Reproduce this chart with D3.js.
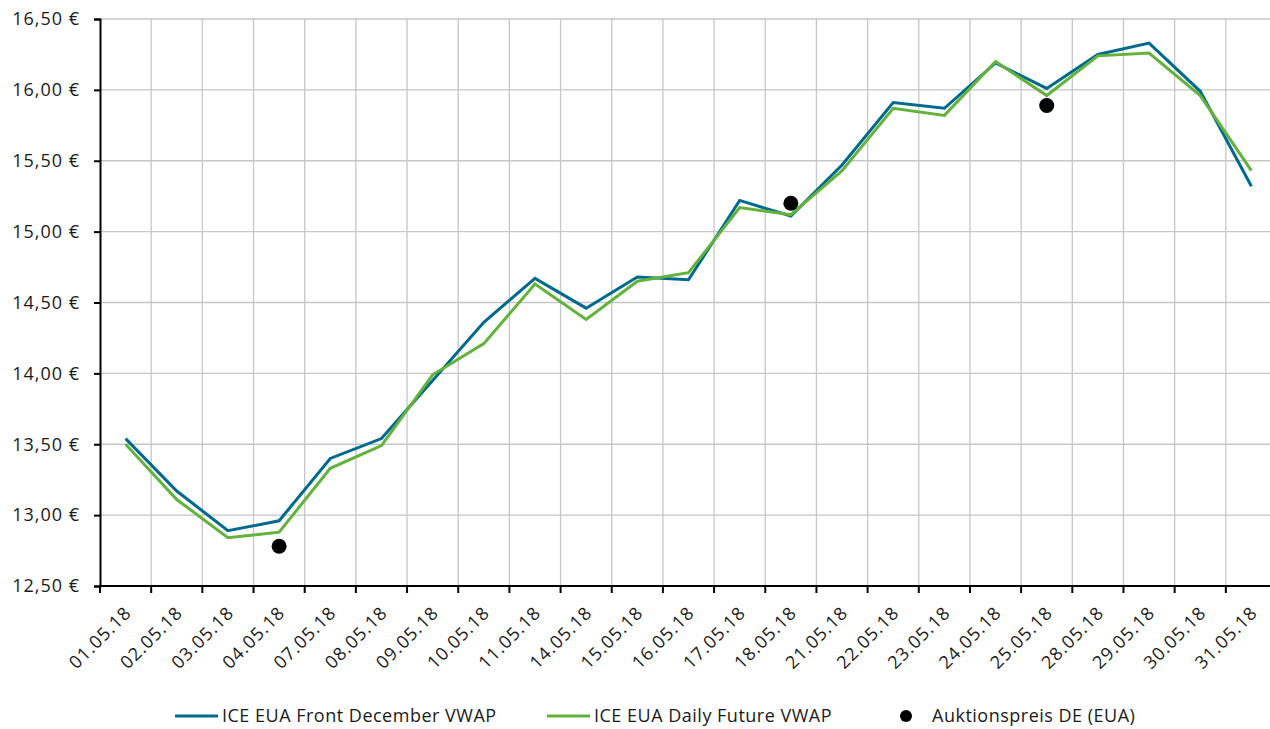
<!DOCTYPE html>
<html>
<head>
<meta charset="utf-8">
<script src="https://cdn.jsdelivr.net/npm/d3@7"></script>
<style>
  html, body { margin: 0; padding: 0; background: #fff; }
  svg { display: block; }
  text { font-family: "Open Sans", "Noto Sans", sans-serif; fill: #1a1a1a; }
</style>
</head>
<body>
<svg id="chart" width="1270" height="729"></svg>
<script>
const categories = ["01.05.18","02.05.18","03.05.18","04.05.18","07.05.18","08.05.18","09.05.18","10.05.18","11.05.18","14.05.18","15.05.18","16.05.18","17.05.18","18.05.18","21.05.18","22.05.18","23.05.18","24.05.18","25.05.18","28.05.18","29.05.18","30.05.18","31.05.18"];
const frontDecember = [13.54,13.17,12.89,12.96,13.40,13.54,13.95,14.36,14.67,14.46,14.68,14.66,15.22,15.11,15.47,15.91,15.87,16.19,16.01,16.25,16.33,15.99,15.32];
const dailyFuture   = [13.50,13.11,12.84,12.88,13.33,13.49,13.99,14.21,14.63,14.38,14.65,14.71,15.17,15.12,15.43,15.87,15.82,16.20,15.96,16.24,16.26,15.96,15.43];
const auktionspreis = [null,null,null,12.78,null,null,null,null,null,null,null,null,null,15.20,null,null,null,null,15.89,null,null,null,null];
const yTicks = [12.5,13.0,13.5,14.0,14.5,15.0,15.5,16.0,16.5];
const seriesNames = ["ICE EUA Front December VWAP","ICE EUA Daily Future VWAP","Auktionspreis DE (EUA)"];

const BLUE = "#006a8e", GREEN = "#62b23b";
const svg = d3.select("#chart");
const mLeft = 100, mRight = 1277, mTop = 19, mBottom = 586;

const x = d3.scaleBand().domain(categories).range([mLeft, mRight]).paddingInner(0).paddingOuter(0);
const y = d3.scaleLinear().domain([12.5, 16.5]).range([mBottom, mTop]);
const bw = x.bandwidth();
const cx = c => x(c) + bw / 2;

const de = d3.formatLocale({decimal: ",", thousands: ".", grouping: [3], currency: ["", " €"]});
const fmt = de.format(".2f");

// gridlines
const grid = svg.append("g");
grid.selectAll("line.h").data(yTicks.slice(1)).join("line")
  .attr("class", "h")
  .attr("x1", mLeft).attr("x2", 1270)
  .attr("y1", d => y(d)).attr("y2", d => y(d))
  .attr("stroke", "#c6c6c6").attr("stroke-width", 1.3);
grid.selectAll("line.v").data(categories).join("line")
  .attr("class", "v")
  .attr("x1", d => x(d) + bw).attr("x2", d => x(d) + bw)
  .attr("y1", mTop).attr("y2", mBottom)
  .attr("stroke", "#c6c6c6").attr("stroke-width", 1.3);

// y axis
const yAxis = svg.append("g").attr("transform", `translate(${mLeft},0)`)
  .call(d3.axisLeft(y).tickValues(yTicks).tickFormat(d => fmt(d) + " €").tickSize(6).tickPadding(14));
yAxis.select(".domain").attr("stroke", "#000").attr("stroke-width", 2);
yAxis.selectAll(".tick line").attr("stroke", "#000").attr("stroke-width", 2);
yAxis.selectAll(".tick text").attr("font-size", 18).attr("letter-spacing", "1px")
  .style("font-family", '"Open Sans", sans-serif').attr("fill", "#1a1a1a");

// x axis
const xAxis = svg.append("g").attr("transform", `translate(0,${mBottom})`)
  .call(d3.axisBottom(x).tickSize(0).tickPadding(0));
xAxis.select(".domain").remove();
xAxis.append("line").attr("x1", mLeft - 1).attr("x2", 1270).attr("y1", 0).attr("y2", 0)
  .attr("stroke", "#000").attr("stroke-width", 2);
xAxis.selectAll("line.bt").data([categories[0]].concat(categories)).join("line")
  .attr("class", "bt")
  .attr("x1", (d, i) => i === 0 ? x(d) : x(d) + bw)
  .attr("x2", (d, i) => i === 0 ? x(d) : x(d) + bw)
  .attr("y1", 0).attr("y2", 7)
  .attr("stroke", "#000").attr("stroke-width", 2);
xAxis.selectAll(".tick text")
  .attr("font-size", 18).attr("letter-spacing", "1px")
  .style("font-family", '"Open Sans", sans-serif').attr("fill", "#1a1a1a")
  .attr("text-anchor", "end").attr("dy", 0).attr("y", 0)
  .attr("transform", "translate(7,28) rotate(-45)");

// lines
const line = d3.line().x((d, i) => cx(categories[i])).y(d => y(d));
svg.append("path").datum(frontDecember).attr("d", line)
  .attr("fill", "none").attr("stroke", BLUE).attr("stroke-width", 3).attr("stroke-linejoin", "miter");
svg.append("path").datum(dailyFuture).attr("d", line)
  .attr("fill", "none").attr("stroke", GREEN).attr("stroke-width", 3).attr("stroke-linejoin", "miter");

// dots
svg.append("g").selectAll("circle")
  .data(auktionspreis.map((v, i) => ({v, c: categories[i]})).filter(d => d.v !== null))
  .join("circle")
  .attr("cx", d => cx(d.c)).attr("cy", d => y(d.v)).attr("r", 7.5).attr("fill", "#000");

// legend
const legend = svg.append("g").attr("transform", "translate(0,716)");
const items = [
  {name: seriesNames[0], type: "line", color: BLUE, x: 175},
  {name: seriesNames[1], type: "line", color: GREEN, x: 547},
  {name: seriesNames[2], type: "dot", color: "#000", x: 900}
];
items.forEach(it => {
  const g = legend.append("g").attr("transform", `translate(${it.x},0)`);
  if (it.type === "line") {
    g.append("line").attr("x1", 0).attr("x2", 43).attr("y1", 0).attr("y2", 0)
      .attr("stroke", it.color).attr("stroke-width", 3);
    g.append("text").attr("x", 47).attr("y", 0).attr("dy", "0.35em")
      .attr("font-size", 18).attr("letter-spacing", "0.5px").text(it.name);
  } else {
    g.append("circle").attr("cx", 6).attr("cy", 0).attr("r", 6).attr("fill", it.color);
    g.append("text").attr("x", 32).attr("y", 0).attr("dy", "0.35em")
      .attr("font-size", 18).attr("letter-spacing", "0.5px").text(it.name);
  }
});
</script>
</body>
</html>
